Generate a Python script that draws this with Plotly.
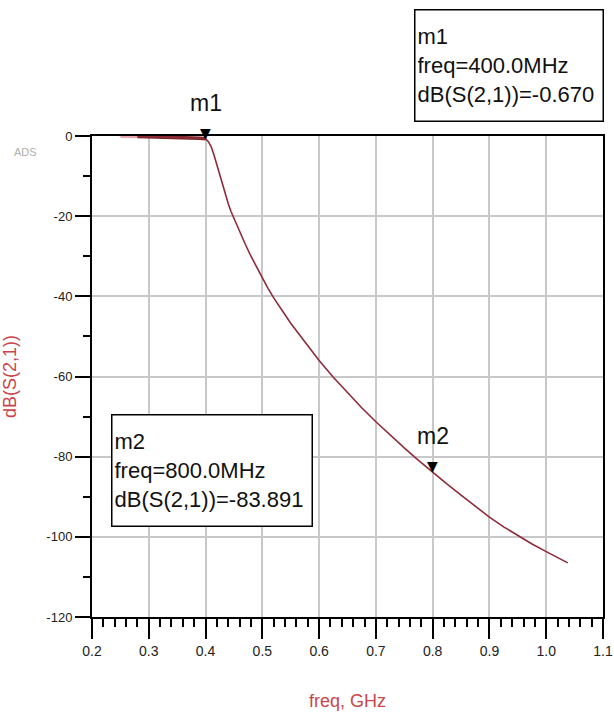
import plotly.graph_objects as go

# S21 of the low-pass filter: frequency in GHz, insertion loss in dB
freq_ghz = [0.25, 0.28, 0.30, 0.33, 0.36, 0.38, 0.39, 0.40, 0.405, 0.41,
            0.415, 0.42, 0.425, 0.43, 0.435, 0.44, 0.445, 0.45, 0.46, 0.47,
            0.48, 0.49, 0.50, 0.51, 0.52, 0.53, 0.54, 0.55, 0.56, 0.57,
            0.58, 0.59, 0.60, 0.625, 0.65, 0.675, 0.70, 0.725, 0.75, 0.775,
            0.80, 0.825, 0.85, 0.875, 0.90, 0.925, 0.95, 0.975, 1.00, 1.02,
            1.038]
db_s21 = [-0.05, -0.10, -0.15, -0.20, -0.30, -0.45, -0.55, -0.670, -1.4, -2.7,
          -4.8, -7.3, -9.9, -12.4, -14.8, -16.9, -18.9, -20.6, -23.9, -27.0,
          -30.0, -32.8, -35.5, -38.0, -40.4, -42.6, -44.7, -46.7, -48.6, -50.5,
          -52.4, -54.2, -56.0, -60.2, -64.1, -67.8, -71.3, -74.6, -77.8, -80.9,
          -83.891, -86.8, -89.6, -92.4, -95.1, -97.5, -99.7, -101.8, -103.7, -105.2,
          -106.5]

# markers placed on the trace
marker_names = ["m1", "m2"]
marker_freq_ghz = [0.40, 0.80]

x_ticks = [0.2, 0.3, 0.4, 0.5, 0.6, 0.7, 0.8, 0.9, 1.0, 1.1]
x_tick_text = ["0.2", "0.3", "0.4", "0.5", "0.6", "0.7", "0.8", "0.9", "1.0", "1.1"]
y_ticks = [0, -20, -40, -60, -80, -100, -120]
y_tick_text = ["0", "-20", "-40", "-60", "-80", "-100", "-120"]

FONT = "Liberation Sans, Arial, sans-serif"
TRACE = "#8E2B3A"
TITLE_RED = "#C8464A"

fig = go.Figure()

# faint lead-in of the trace at the start of the sweep
lead = [i for i, f in enumerate(freq_ghz) if f <= 0.28]
fig.add_trace(go.Scatter(
    x=[freq_ghz[i] for i in lead], y=[db_s21[i] for i in lead],
    mode="lines", line=dict(color="#E9A9B0", width=3.5),
    hoverinfo="skip", showlegend=False))

# passband portion sits on the top frame, drawn heavier
pb = [i for i, f in enumerate(freq_ghz) if 0.28 <= f <= 0.40]
fig.add_trace(go.Scatter(
    x=[freq_ghz[i] for i in pb], y=[db_s21[i] for i in pb],
    mode="lines", line=dict(color="#7A2424", width=3.5),
    hoverinfo="skip", showlegend=False))

rest = [i for i, f in enumerate(freq_ghz) if f >= 0.28]
fig.add_trace(go.Scatter(
    x=[freq_ghz[i] for i in rest], y=[db_s21[i] for i in rest],
    mode="lines", line=dict(color=TRACE, width=1.6),
    name="dB(S(2,1))", showlegend=False))

annotations = []
marker_vals = []
for name, f in zip(marker_names, marker_freq_ghz):
    v = db_s21[freq_ghz.index(f)]
    marker_vals.append(v)
    # triangle pointing at the trace
    annotations.append(dict(
        x=f, y=v, xref="x", yref="y", text="\u25BC", showarrow=False,
        xanchor="center", yanchor="bottom", yshift=-4,
        font=dict(family="DejaVu Sans", size=14, color="black")))
    # marker name above the triangle
    annotations.append(dict(
        x=f, y=v, xref="x", yref="y", text=name, showarrow=False,
        xanchor="center", yanchor="bottom", yshift=21,
        font=dict(family=FONT, size=23, color="#111111")))


def readout(name, f, v):
    return f"{name}<br>freq={f * 1000:.1f}MHz<br>dB(S(2,1))={v:.3f}"


# readout boxes
annotations.append(dict(
    x=1.002, y=1.264, xref="paper", yref="paper",
    xanchor="right", yanchor="top", showarrow=False, align="left",
    text=readout(marker_names[0], marker_freq_ghz[0], marker_vals[0]),
    width=183, height=106, borderpad=2, borderwidth=1.5,
    bordercolor="black", bgcolor="white",
    font=dict(family=FONT, size=22, color="#111111")))
annotations.append(dict(
    x=0.037, y=0.422, xref="paper", yref="paper",
    xanchor="left", yanchor="top", showarrow=False, align="left",
    text=readout(marker_names[1], marker_freq_ghz[1], marker_vals[1]),
    width=195, height=106, borderpad=2, borderwidth=1.5,
    bordercolor="black", bgcolor="white",
    font=dict(family=FONT, size=22, color="#111111")))

# small product tag at the top left
annotations.append(dict(
    x=-0.131, y=0.967, xref="paper", yref="paper", text="ADS",
    showarrow=False, xanchor="center", yanchor="middle",
    font=dict(family=FONT, size=11, color="#B0B0B0")))

fig.update_layout(
    width=614, height=720,
    margin=dict(l=92, r=11, t=136, b=103),
    paper_bgcolor="white", plot_bgcolor="white",
    showlegend=False,
    annotations=annotations,
    xaxis=dict(
        range=[0.2, 1.1], tickvals=x_ticks, ticktext=x_tick_text,
        automargin=False,
        showgrid=True, gridcolor="#C8C8C8", gridwidth=1.5,
        showline=True, linecolor="black", linewidth=2, mirror=True,
        ticks="outside", ticklen=20, tickwidth=2, tickcolor="black",
        minor=dict(dtick=0.02, ticks="outside", ticklen=8, tickwidth=1.5,
                   tickcolor="black", showgrid=False),
        tickfont=dict(family=FONT, size=14, color="#222222"),
        zeroline=False,
        title=dict(text="freq, GHz", standoff=37,
                   font=dict(family=FONT, size=18, color=TITLE_RED)),
    ),
    yaxis=dict(
        range=[-120, 0], tickvals=y_ticks, ticktext=y_tick_text,
        automargin=False,
        showgrid=True, gridcolor="#C8C8C8", gridwidth=1.5,
        showline=True, linecolor="black", linewidth=2, mirror=True,
        ticks="outside", ticklen=15, tickwidth=2, tickcolor="black",
        minor=dict(dtick=10, ticks="outside", ticklen=7, tickwidth=1.5,
                   tickcolor="black", showgrid=False),
        tickfont=dict(family=FONT, size=13, color="#222222"),
        zeroline=False,
        title=dict(text="dB(S(2,1))", standoff=25,
                   font=dict(family=FONT, size=18, color=TITLE_RED)),
    ),
)

fig.write_html("out.html")
